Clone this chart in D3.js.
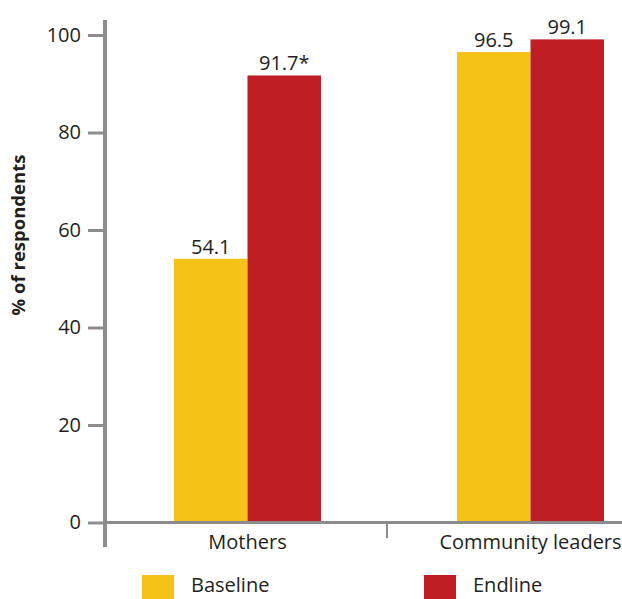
<!DOCTYPE html>
<html><head><meta charset="utf-8">
<script src="https://cdn.jsdelivr.net/npm/d3@7"></script>
<style>html,body{margin:0;padding:0;background:#fff}svg{display:block}</style>
</head><body><svg id="c" width="622" height="599"></svg>
<script>
const categories = ["Mothers", "Community leaders"];
const seriesNames = ["Baseline", "Endline"];
const baseline = [54.1, 96.5];
const endline = [91.7, 99.1];
const valueLabels = [["54.1", "96.5"], ["91.7*", "99.1"]];
const yTicks = [0, 20, 40, 60, 80, 100];
const colors = ["#F5C218", "#BE1E24"];

const svg = d3.select("#c");
const font = "'Open Sans', sans-serif";
const textColor = "#231f20";
const axisColor = "#8c8c8c";
const fs = 20;

const x0 = d3.scaleBand().domain(categories).range([106, 672]).paddingInner(0).paddingOuter(0);
const x1 = d3.scaleBand().domain(seriesNames).range([0, 147]);
const y = d3.scaleLinear().domain([0, 100]).range([522.5, 35]);

const data = categories.map((c, i) => ({cat: c, vals: [baseline[i], endline[i]], labels: [valueLabels[0][i], valueLabels[1][i]]}));

// bars
const g = svg.append("g");
data.forEach(d => {
  const cx = x0(d.cat) + x0.bandwidth() / 2 - 73.5;
  seriesNames.forEach((s, j) => {
    g.append("rect")
      .attr("x", cx + x1(s)).attr("y", y(d.vals[j]))
      .attr("width", x1.bandwidth()).attr("height", y(0) - y(d.vals[j]))
      .attr("fill", colors[j]);
    g.append("text")
      .attr("x", cx + x1(s) + x1.bandwidth() / 2).attr("y", y(d.vals[j]) - 5)
      .attr("text-anchor", "middle").attr("font-family", font).attr("font-size", fs)
      .attr("fill", textColor).text(d.labels[j]);
  });
});

// y axis
const yAxis = d3.axisLeft(y).tickValues(yTicks).tickSize(17).tickPadding(7).tickFormat(d3.format("d"));
const ya = svg.append("g").attr("transform", "translate(105,0)").call(yAxis);
ya.select(".domain").remove();
ya.selectAll(".tick line").attr("stroke", axisColor).attr("stroke-width", 3);
ya.selectAll(".tick text").attr("font-family", font).attr("font-size", fs).attr("fill", textColor);
svg.append("line").attr("x1", 105).attr("x2", 105).attr("y1", 20).attr("y2", 547)
  .attr("stroke", axisColor).attr("stroke-width", 4);

// x axis
svg.append("line").attr("x1", 103).attr("x2", 622).attr("y1", y(0)).attr("y2", y(0))
  .attr("stroke", axisColor).attr("stroke-width", 3);
const xAxis = d3.axisBottom(x0).tickSize(0).tickPadding(12);
const xa = svg.append("g").attr("transform", `translate(0,${y(0)})`).call(xAxis);
xa.select(".domain").remove();
xa.selectAll(".tick text").attr("font-family", font).attr("font-size", fs).attr("fill", textColor);
// separator tick between categories
svg.append("line").attr("x1", x0("Community leaders") - 2).attr("x2", x0("Community leaders") - 2)
  .attr("y1", y(0)).attr("y2", 538).attr("stroke", axisColor).attr("stroke-width", 2);

// y title
svg.append("text").attr("transform", "translate(25,235) rotate(-90)")
  .attr("text-anchor", "middle").attr("font-family", font).attr("font-size", 18.5)
  .attr("font-weight", "bold").attr("fill", textColor).text("% of respondents");

// legend
const legX = [142, 424];
seriesNames.forEach((s, j) => {
  svg.append("rect").attr("x", legX[j]).attr("y", 575).attr("width", 32).attr("height", 24).attr("fill", colors[j]);
  svg.append("text").attr("x", legX[j] + 49).attr("y", 592).attr("font-family", font).attr("font-size", fs)
    .attr("fill", textColor).text(s);
});
</script></body></html>
